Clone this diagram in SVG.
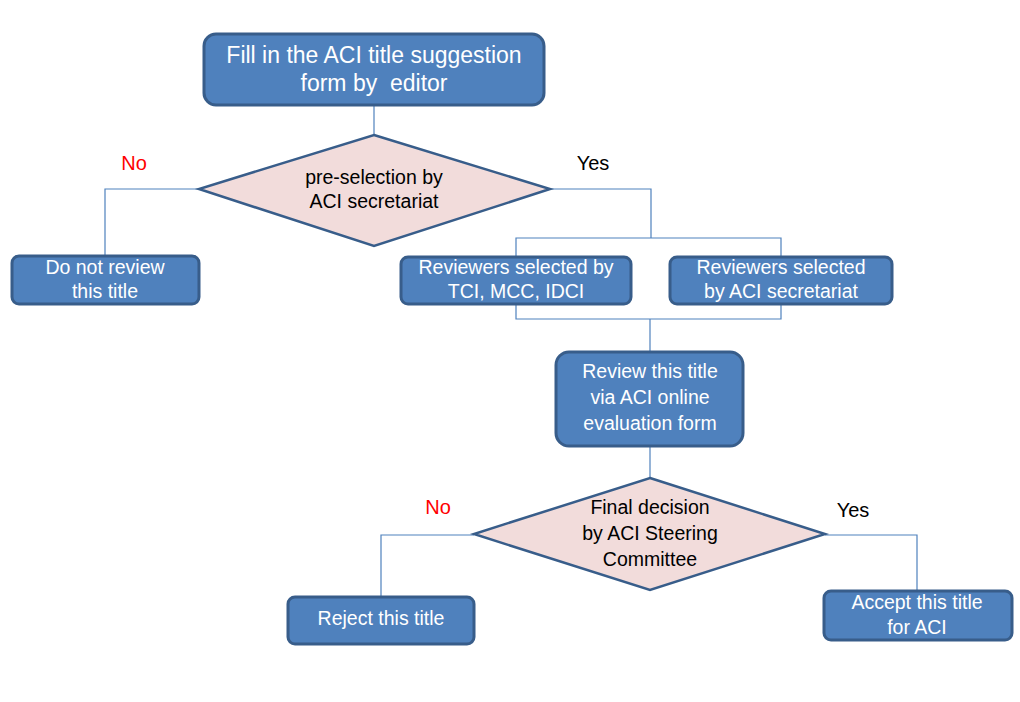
<svg xmlns="http://www.w3.org/2000/svg" width="1020" height="702" viewBox="0 0 1020 702">
<style>
.box{fill:#4F81BD;stroke:#385D8A;stroke-width:3}
.dia{fill:#F2DCDB;stroke:#385D8A;stroke-width:2.5}
.con{fill:none;stroke:#4F81BD;stroke-width:1.2}
.wt{font-family:"Liberation Sans",Arial,sans-serif;font-size:19.5px;fill:#FFFFFF;text-anchor:middle}
.bt{font-family:"Liberation Sans",Arial,sans-serif;font-size:19.5px;fill:#000000;text-anchor:middle}
.no{font-family:"Liberation Sans",Arial,sans-serif;font-size:20px;fill:#FF0000;text-anchor:middle}
.yes{font-family:"Liberation Sans",Arial,sans-serif;font-size:20px;fill:#000000;text-anchor:middle}
</style>
<rect width="1020" height="702" fill="#FFFFFF"/>
<g id="connectors">
<path class="con" d="M374,105 V135"/>
<path class="con" d="M199,189 H105 V256"/>
<path class="con" d="M550,189 H651 V238"/>
<path class="con" d="M516,257 V238 H781 V257"/>
<path class="con" d="M516,304 V319 H781 V304"/>
<path class="con" d="M650,319 V352"/>
<path class="con" d="M650,446 V478"/>
<path class="con" d="M474,535 H381 V597"/>
<path class="con" d="M825,535 H917 V591"/>
</g>
<g id="n1">
<rect class="box" x="204" y="34" width="340" height="71" rx="12"/>
<text class="wt" style="font-size:23px" x="374" y="63">Fill in the ACI title suggestion</text>
<text class="wt" style="font-size:23px;white-space:pre" xml:space="preserve" x="374" y="91">form by  editor</text>
</g>
<g id="d1">
<polygon class="dia" points="374,135 550,189 374,246 199,189"/>
<text class="bt" x="374" y="184">pre-selection by</text>
<text class="bt" x="374" y="208">ACI secretariat</text>
</g>
<g id="lbl-no1"><text class="no" x="134" y="170">No</text></g>
<g id="lbl-yes1"><text class="yes" x="593" y="170">Yes</text></g>
<g id="n2">
<rect class="box" x="12" y="256" width="187" height="48" rx="7"/>
<text class="wt" x="105" y="274">Do not review</text>
<text class="wt" x="105" y="298">this title</text>
</g>
<g id="n3">
<rect class="box" x="401" y="257" width="230" height="47" rx="7"/>
<text class="wt" x="516" y="274">Reviewers selected by</text>
<text class="wt" x="516" y="298">TCI, MCC, IDCI</text>
</g>
<g id="n4">
<rect class="box" x="670" y="257" width="222" height="47" rx="7"/>
<text class="wt" x="781" y="274">Reviewers selected</text>
<text class="wt" x="781" y="298">by ACI secretariat</text>
</g>
<g id="n5">
<rect class="box" x="556" y="352" width="187" height="94" rx="13"/>
<text class="wt" x="650" y="378">Review this title</text>
<text class="wt" x="650" y="404">via ACI online</text>
<text class="wt" x="650" y="430">evaluation form</text>
</g>
<g id="d2">
<polygon class="dia" points="650,478 825,534 650,590 474,534"/>
<text class="bt" x="650" y="514">Final decision</text>
<text class="bt" x="650" y="540">by ACI Steering</text>
<text class="bt" x="650" y="566">Committee</text>
</g>
<g id="lbl-no2"><text class="no" x="438" y="514">No</text></g>
<g id="lbl-yes2"><text class="yes" x="853" y="517">Yes</text></g>
<g id="n6">
<rect class="box" x="288" y="597" width="186" height="47" rx="7"/>
<text class="wt" x="381" y="625">Reject this title</text>
</g>
<g id="n7">
<rect class="box" x="824" y="591" width="188" height="49" rx="7"/>
<text class="wt" x="917" y="609">Accept this title</text>
<text class="wt" x="917" y="634">for ACI</text>
</g>
</svg>
